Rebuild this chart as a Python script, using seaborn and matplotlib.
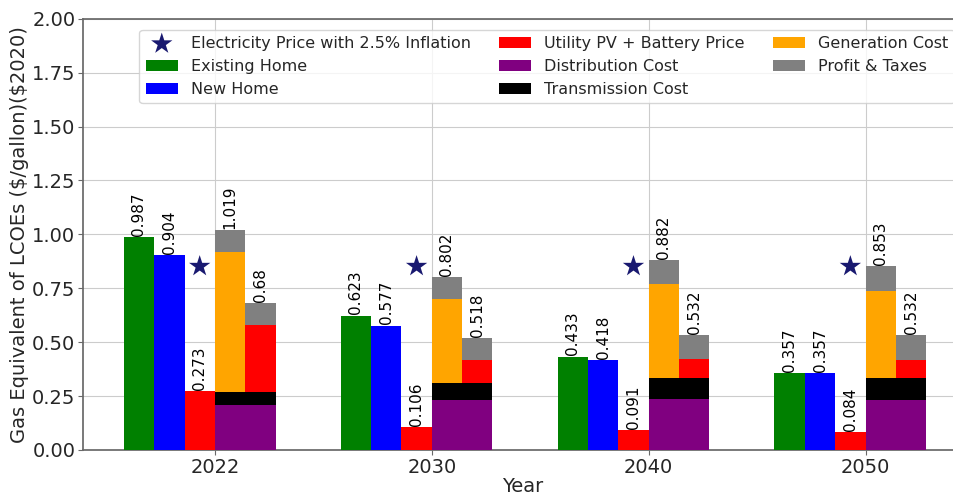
import numpy as np
import pandas as pd
import matplotlib
matplotlib.use("Agg")
import matplotlib.pyplot as plt
import seaborn as sns

years = ["2022", "2030", "2040", "2050"]
existing_home = [0.987, 0.623, 0.433, 0.357]
new_home = [0.904, 0.577, 0.418, 0.357]
utility_pv = [0.273, 0.106, 0.091, 0.084]
elec_price = [0.852, 0.852, 0.852, 0.852]

# Grid electricity stack
distribution = [0.209, 0.232, 0.238, 0.232]
transmission = [0.059, 0.080, 0.098, 0.104]
generation = [0.648, 0.387, 0.434, 0.402]
grid_total = [1.019, 0.802, 0.882, 0.853]

# Utility PV stack
pv_part = [0.312, 0.107, 0.086, 0.079]
pv_total = [0.68, 0.518, 0.532, 0.532]

sns.set_theme(style="whitegrid")
plt.rcParams['font.family'] = ['DejaVu Sans']

fig = plt.figure(figsize=(9.54, 4.95), dpi=100)
ax = fig.add_axes([0.087, 0.091, 0.921, 0.871])

x = np.arange(len(years))
w = 0.14
off = [-2.5 * w, -1.5 * w, -0.5 * w, 0.5 * w, 1.5 * w]

dist = np.array(distribution)
trans = np.array(transmission)
gen = np.array(generation)
gtot = np.array(grid_total)
pv = np.array(pv_part)
ptot = np.array(pv_total)

kw = dict(width=w, linewidth=0, zorder=3)
ax.bar(x + off[0], existing_home, color="green", label="Existing Home", **kw)
ax.bar(x + off[1], new_home, color="blue", label="New Home", **kw)
ax.bar(x + off[2], utility_pv, color="red", label="Utility PV + Battery Price", **kw)

# stacked grid bar
ax.bar(x + off[3], dist, color="purple", label="Distribution Cost", **kw)
ax.bar(x + off[3], trans, bottom=dist, color="black", label="Transmission Cost", **kw)
ax.bar(x + off[3], gen, bottom=dist + trans, color="orange", label="Generation Cost", **kw)
ax.bar(x + off[3], gtot - (dist + trans + gen), bottom=dist + trans + gen,
       color="gray", label="Profit & Taxes", **kw)

# stacked PV bar
ax.bar(x + off[4], dist, color="purple", **kw)
ax.bar(x + off[4], trans, bottom=dist, color="black", **kw)
ax.bar(x + off[4], pv, bottom=dist + trans, color="red", **kw)
ax.bar(x + off[4], ptot - (dist + trans + pv), bottom=dist + trans + pv, color="gray", **kw)

sns.scatterplot(x=x + off[2], y=elec_price, marker="*", s=260, color="midnightblue",
                edgecolor="none", ax=ax, label="Electricity Price with 2.5% Inflation",
                zorder=5)

def fmt(v):
    return ("%.3f" % v).rstrip("0").rstrip(".")

for series, o in [(existing_home, off[0]), (new_home, off[1]), (utility_pv, off[2]),
                  (grid_total, off[3]), (pv_total, off[4])]:
    for xi, v in zip(x, series):
        ax.text(xi + o, v + 0.006, fmt(v), rotation=90, ha="center", va="bottom",
                fontsize=11, color="black", zorder=6)

ax.set_xticks(x)
ax.set_xticklabels(years, fontsize=14)
ax.set_xlim(-0.608, 3.443)
ax.set_ylim(0, 2.0)
ax.set_yticks(np.arange(0, 2.01, 0.25))
ax.set_yticklabels(["%.2f" % t for t in np.arange(0, 2.01, 0.25)], fontsize=14)
ax.tick_params(axis="both", length=3.5, width=0.8, color="dimgray", left=True,
               bottom=True, pad=2)
ax.set_xlabel("Year", fontsize=14, labelpad=0)
ax.set_ylabel("Gas Equivalent of LCOEs (\\$/gallon)(\\$2020)", fontsize=14, labelpad=2)
for s in ax.spines.values():
    s.set_color("dimgray")
ax.grid(True, color="#cccccc", linewidth=0.8)

handles, labels = ax.get_legend_handles_labels()
order = ["Electricity Price with 2.5% Inflation", "Existing Home", "New Home",
         "Utility PV + Battery Price", "Distribution Cost", "Transmission Cost",
         "Generation Cost", "Profit & Taxes"]
hd = dict(zip(labels, handles))
ax.legend([hd[l] for l in order], order, ncol=3, loc="upper right",
          bbox_to_anchor=(0.992, 0.975), fontsize=11.5,
          frameon=True, handlelength=2.0, columnspacing=1.8, labelspacing=0.5,
          borderaxespad=0.0)

fig.savefig("out.png", dpi=100)
